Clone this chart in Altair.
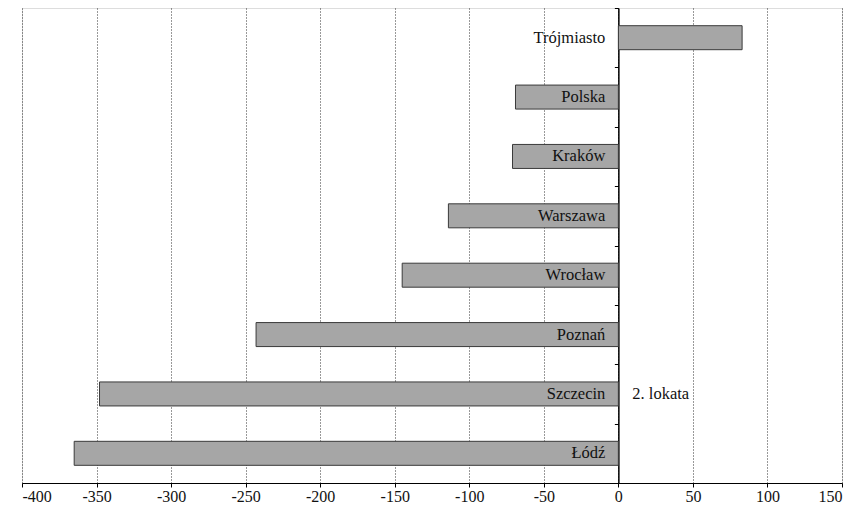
import altair as alt
import pandas as pd

cities = ["Trójmiasto", "Polska", "Kraków", "Warszawa", "Wrocław", "Poznań", "Szczecin", "Łódź"]
values = [83, -69, -71, -114, -145, -243, -348, -365]
note_city = ["Szczecin"]
note_text = ["2. lokata"]
x_ticks = [-400, -350, -300, -250, -200, -150, -100, -50, 0, 50, 100, 150]

df = pd.DataFrame({"city": cities, "value": values, "zero": [0] * len(cities)})
notes = pd.DataFrame({"city": note_city, "text": note_text, "zero": [0]})

FONT = "'Liberation Serif', 'Times New Roman', 'DejaVu Serif', serif"
W = 820
H = 475
x_min, x_max = -400, 150
zero_offset = -(0 - x_min) / (x_max - x_min) * W

x_scale = alt.Scale(domain=[x_min, x_max], nice=False, zero=False)
y_scale = alt.Scale(domain=cities, paddingInner=0, paddingOuter=0)

bars = alt.Chart(df).mark_bar(size=24, color="#a6a6a6", stroke="#3a3a3a", strokeWidth=1).encode(
    x=alt.X("value:Q", scale=x_scale,
            axis=alt.Axis(values=x_ticks, title=None, grid=True, gridColor="#333333",
                          gridDash=[1, 2], gridWidth=1, domainColor="#000000", domainWidth=1.2,
                          tickColor="#000000", tickSize=4, labelFont=FONT, labelFontSize=16,
                          labelColor="#111111", labelPadding=1,
                          labelExpr="datum.value < 0 ? '-' + abs(datum.value) : '' + datum.value")),
    x2="zero:Q",
    y=alt.Y("city:N", scale=y_scale, sort=cities,
            axis=alt.Axis(title=None, labels=False, offset=zero_offset, tickBand="extent",
                          domainColor="#000000", domainWidth=1.5, tickColor="#000000",
                          tickSize=4, grid=False)),
)

labels = alt.Chart(df).mark_text(align="right", baseline="middle", dx=-13, font=FONT,
                                 fontSize=16.5, color="#111111").encode(
    x=alt.X("zero:Q", scale=x_scale),
    y=alt.Y("city:N", scale=y_scale, sort=cities),
    text="city:N",
)

note = alt.Chart(notes).mark_text(align="left", baseline="middle", dx=14, font=FONT,
                                  fontSize=16.5, color="#111111").encode(
    x=alt.X("zero:Q", scale=x_scale),
    y=alt.Y("city:N", scale=y_scale, sort=cities),
    text="text:N",
)

chart = alt.layer(bars, labels, note).properties(
    width=W, height=H,
    autosize=alt.AutoSizeParams(type="none"),
    padding={"left": 14, "top": 0, "right": 12, "bottom": 23},
).configure_view(stroke="#808080", strokeWidth=1.5).configure(background="white")

chart.save("out.html", embed_options={"renderer": "svg", "actions": False})
